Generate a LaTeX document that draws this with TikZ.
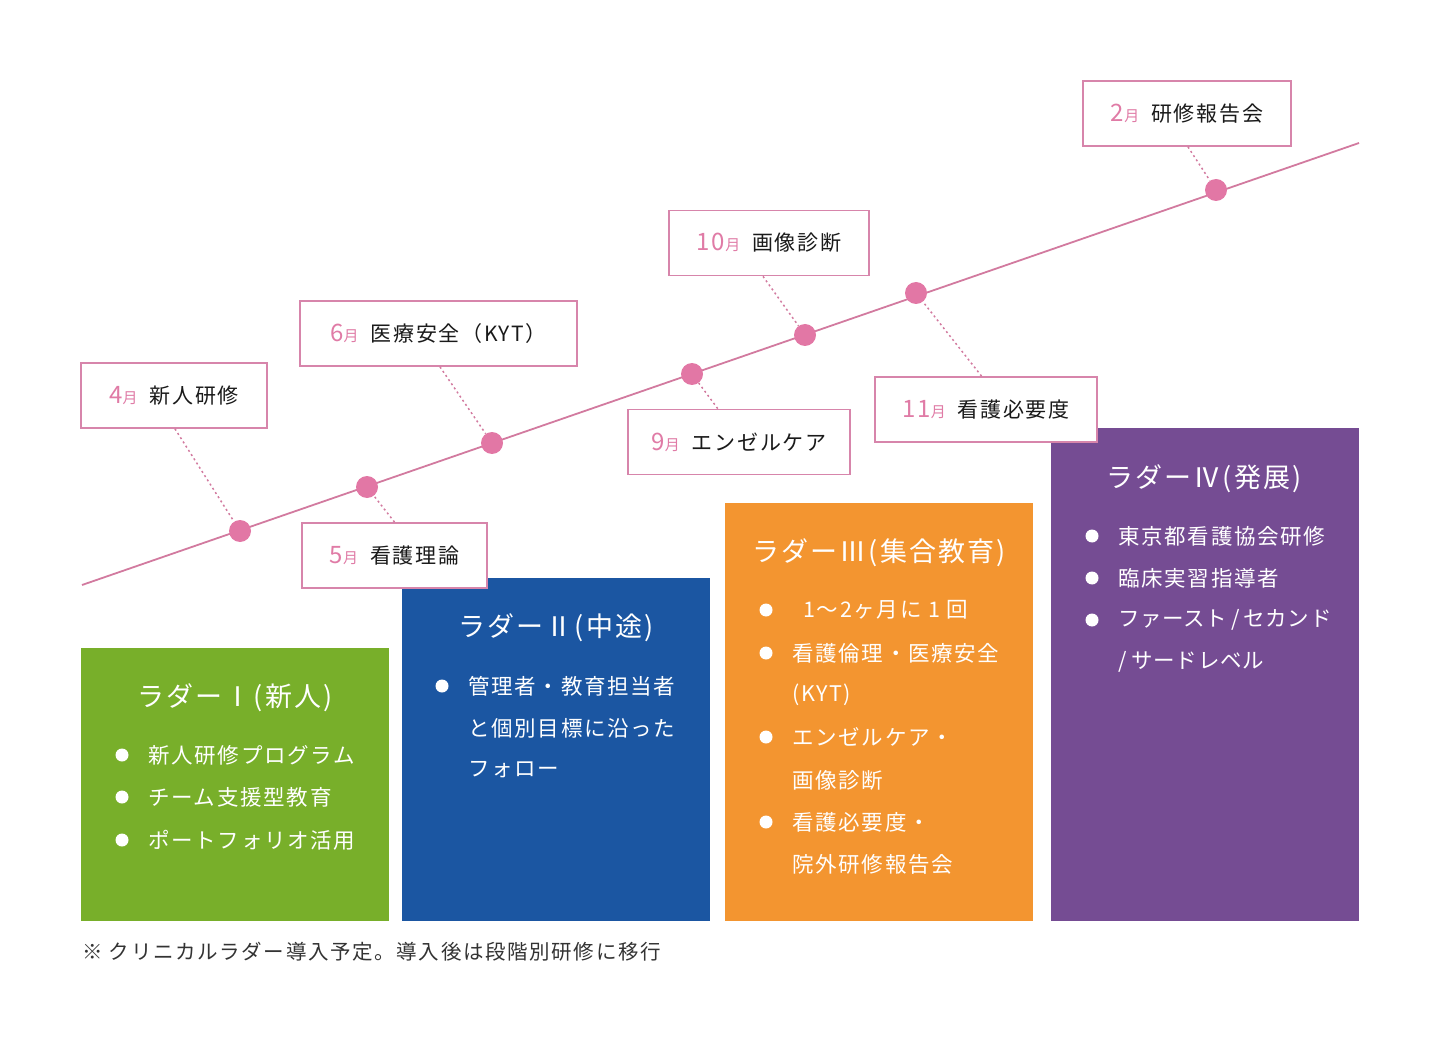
\documentclass[tikz,border=0pt]{standalone}
\usepackage{fontspec}
\setmainfont[LetterSpace=8]{Noto Sans CJK JP}
\newfontfamily\tightfont[LetterSpace=3]{Noto Sans CJK JP}
\usetikzlibrary{calc}
\definecolor{lgreen}{HTML}{78AF2A}
\definecolor{lblue}{HTML}{1B56A2}
\definecolor{lorange}{HTML}{F39530}
\definecolor{lpurple}{HTML}{754C93}
\definecolor{pline}{HTML}{D27A9F}
\definecolor{pdot}{HTML}{E277A5}
\definecolor{pborder}{HTML}{D785AB}
\definecolor{pnum}{HTML}{E07BA6}
\definecolor{tdark}{HTML}{1A1A1A}
\definecolor{fgray}{HTML}{333333}
\newcommand{\mon}[2]{{\color{pnum}\fontsize{24}{24}\selectfont #1}{\color{pnum}\fontsize{15}{15}\selectfont 月}\hspace{12pt}{\color{tdark}#2}}
\tikzset{
  evbox/.style={draw=pborder, line width=1.8pt, fill=white, minimum height=65pt, inner sep=0pt, font=\fontsize{21}{24}\selectfont},
  evdot/.style={circle, fill=pdot, minimum size=22pt, inner sep=0pt},
  evlink/.style={draw=pline, line width=1.5pt, dash pattern=on 2pt off 3pt},
  ladder/.style={anchor=north west, minimum width=308pt, inner sep=0pt},
  ltitle/.style={text=white, font=\fontsize{27}{30}\selectfont},
  litem/.style={anchor=west, text=white, inner sep=0pt, font=\fontsize{21.5}{24}\selectfont},
  bul/.style={circle, fill=white, minimum size=13pt, inner sep=0pt}
}
\begin{document}
\begin{tikzpicture}[x=1pt,y=-1pt]
\useasboundingbox (0,0) rectangle (1440,1040);
% ladder boxes
\node[ladder, fill=lgreen, minimum height=273pt] (g) at (81,648) {};
\node[ladder, fill=lblue, minimum height=343pt] (bl) at (402,578) {};
\node[ladder, fill=lorange, minimum height=418pt] (o) at (725,503) {};
\node[ladder, fill=lpurple, minimum height=493pt] (p) at (1051,428) {};
% timeline
\coordinate (ls) at (82,585);
\coordinate (le) at (1359,143);
\draw[pline, line width=1.8pt] (ls) -- (le);
% event boxes
\node[evbox, minimum width=186pt] (b4) at (174,395.5) {\mon{4}{新人研修}};
\node[evbox, minimum width=185pt] (b5) at (394.5,555.5) {\mon{5}{看護理論}};
\node[evbox, minimum width=277pt] (b6) at (438.5,333.5) {\mon{6}{医療安全（KYT）}};
\node[evbox, minimum width=222pt] (b9) at (739,442) {\mon{9}{エンゼルケア}};
\node[evbox, minimum width=200pt] (b10) at (769,243) {\mon{10}{画像診断}};
\node[evbox, minimum width=222pt] (b11) at (986,409.5) {\mon{11}{看護必要度}};
\node[evbox, minimum width=208pt] (b2) at (1187,113.5) {\mon{2}{研修報告会}};
% dots
\node[evdot] (d4) at (240,531) {};
\node[evdot] (d5) at (367,487) {};
\node[evdot] (d6) at (492,443) {};
\node[evdot] (d9) at (692,374) {};
\node[evdot] (d10) at (805,335) {};
\node[evdot] (d11) at (916,293) {};
\node[evdot] (d2) at (1216,190) {};
% links
\path[evlink] ($(b4.south)+(1,0)$) -- (d4);
\path[evlink] (b5.north) -- (d5);
\path[evlink] ($(b6.south)+(1.5,0)$) -- (d6);
\path[evlink] ($(b9.north west)!0.405!(b9.north east)$) -- (d9);
\path[evlink] ($(b10.south)+(-6,0)$) -- (d10);
\path[evlink] ($(b11.north west)!0.48!(b11.north east)$) -- (d11);
\path[evlink] ($(b2.south)+(1,0)$) -- (d2);
% ladder I
\node[ltitle] (t1) at (235,698) {ラダーⅠ(新人)};
\node[bul] (g1b) at (122,755) {};
\node[litem] (g1) at (148,755) {新人研修プログラム};
\node[bul] (g2b) at (122,797) {};
\node[litem] (g2) at (148,797) {チーム支援型教育};
\node[bul] (g3b) at (122,840) {};
\node[litem] (g3) at (148,840) {ポートフォリオ活用};
% ladder II
\node[ltitle] (t2) at (556,628) {ラダーⅡ(中途)};
\node[bul] (b1b) at (442,686) {};
\node[litem] (b1) at (468,686) {管理者・教育担当者};
\node[litem] (b1x) at (468,728) {と個別目標に沿った};
\node[litem] (b1y) at (468,770) {フォロー};
% ladder III
\node[ltitle] (t3) at (879,553) {ラダーⅢ(集合教育)};
\node[bul] (o1b) at (766,610) {};
\node[litem] (o1) at (803,610) {1～2ヶ月に 1 回};
\node[bul] (o2b) at (766,653) {};
\node[litem] (o2) at (792,653) {看護倫理・医療安全};
\node[litem] (o2x) at (792,695) {(KYT)};
\node[bul] (o3b) at (766,737) {};
\node[litem] (o3) at (792,737) {エンゼルケア・};
\node[litem] (o3x) at (792,780) {画像診断};
\node[bul] (o4b) at (766,822) {};
\node[litem] (o4) at (792,822) {看護必要度・};
\node[litem] (o4x) at (792,864) {院外研修報告会};
% ladder IV
\node[ltitle] (t4) at (1204,479) {ラダーⅣ(発展)};
\node[bul] (p1b) at (1092,536) {};
\node[litem] (p1) at (1118,536) {東京都看護協会研修};
\node[bul] (p2b) at (1092,578) {};
\node[litem] (p2) at (1118,578) {臨床実習指導者};
\node[bul] (p3b) at (1092,620) {};
\node[litem] (p3) at (1118,620) {\tightfont ファースト\hspace{4pt}/\hspace{4pt}セカンド};
\node[litem] (p3x) at (1118,662) {\tightfont /\hspace{5pt}サードレベル};
% footnote
\node[anchor=west, inner sep=0pt, text=fgray, font=\fontsize{20.5}{24}\selectfont] (fn) at (82,952) {※ クリニカルラダー導入予定。導入後は段階別研修に移行};
\end{tikzpicture}
\end{document}
